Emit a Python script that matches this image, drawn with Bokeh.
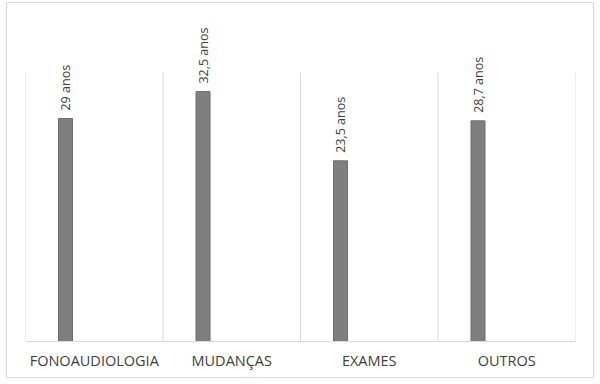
import math
from bokeh.plotting import figure
from bokeh.models import ColumnDataSource, Range1d
from bokeh.transform import dodge
from bokeh.core.properties import value
from bokeh.embed import file_html
from bokeh.resources import INLINE

categories = ["FONOAUDIOLOGIA", "MUDANÇAS", "EXAMES", "OUTROS"]
ages = [29, 32.5, 23.5, 28.7]
labels = [f"{v:g}".replace(".", ",") + " anos" for v in ages]
axis_max = 35

src = ColumnDataSource(dict(cat=categories, age=ages, label=labels,
                            base=[0] * len(categories), top=[axis_max] * len(categories)))

W, H = 588, 376
p = figure(x_range=categories, y_range=Range1d(0, 42.4), width=W, height=H,
           output_backend="svg", toolbar_location=None,
           min_border_left=18, min_border_right=20, min_border_top=12, min_border_bottom=38,
           styles={"margin-top": "2px", "margin-left": "6px",
                   "border": "1px solid #d9d9d9"})
p.outline_line_color = None
p.background_fill_color = "white"
p.border_fill_color = "white"
p.xgrid.grid_line_color = None
p.ygrid.grid_line_color = None
p.yaxis.visible = False

# category separators
p.segment(x0=dodge("cat", -0.5, range=p.x_range), y0="base",
          x1=dodge("cat", -0.5, range=p.x_range), y1="top",
          source=src, line_color="#d9d9d9", line_width=1)
last = ColumnDataSource(dict(cat=categories[-1:], base=[0], top=[axis_max]))
p.segment(x0=dodge("cat", 0.5, range=p.x_range), y0="base",
          x1=dodge("cat", 0.5, range=p.x_range), y1="top",
          source=last, line_color="#d9d9d9", line_width=1)

p.vbar(x=dodge("cat", -0.209, range=p.x_range), top="age", width=0.102, source=src,
       fill_color="#7f7f7f", line_color="#6e6e6e", line_width=1)

p.text(x=dodge("cat", -0.209, range=p.x_range), y="age", text="label", source=src,
       angle=math.pi / 2, text_align="left", text_baseline="middle",
       y_offset=-8, text_font=value("Open Sans"), text_font_size="12.5px",
       text_color="#404040")

ax = p.xaxis[0]
ax.axis_line_color = "#d9d9d9"
ax.major_tick_line_color = None
ax.minor_tick_line_color = None
ax.major_label_standoff = 3
ax.major_label_text_font = "Open Sans"
ax.major_label_text_font_size = "14.5px"
ax.major_label_text_color = "#404040"

open("out.html", "w").write(file_html(p, INLINE))
